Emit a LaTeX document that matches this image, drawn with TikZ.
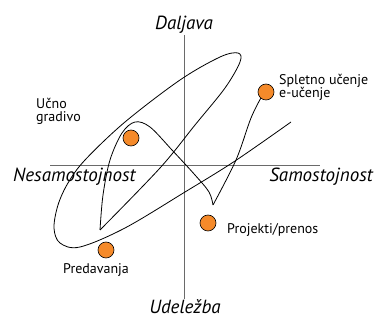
\documentclass[tikz,border=0pt]{standalone}
\usepackage{fontspec}
\setmainfont{PT Sans}
\usepackage{tikz}
\usepackage{xcolor}
\usetikzlibrary{
    calc,
    positioning
}
\definecolor{dotorange}{HTML}{F58A2A}
\definecolor{axisgray}{HTML}{6A6A6A}
\tikzset{
    dot/.style={circle, draw=black, line width=0.6pt, fill=dotorange, minimum size=16pt, inner sep=0pt},
    bigtext/.style={font=\fontsize{19}{21}\selectfont\itshape, inner sep=0pt},
    smalltext/.style={font=\fontsize{14}{13.5}\selectfont, inner sep=0pt, align=left}
}

\begin{document}
\begin{tikzpicture}[x=1pt, y=-1pt]
                                \useasboundingbox (0, 0) rectangle (378, 320);
                                % axes
                                \draw[axisgray, line width=0.9pt] (184, 35) -- (184, 299);
                                \draw[axisgray, line width=0.9pt] (50, 165) -- (320, 165);
                                \node[bigtext, anchor=base] (top) at (184, 30) {Daljava};
                                \node[bigtext, anchor=base] (bottom) at (185, 314) {Udeležba};
                                \node[bigtext, anchor=base west] (left) at (13, 182) {Nesamostojnost};
                                \node[bigtext, anchor=base east] (right) at (373, 182) {Samostojnost};
                                % path
                                \draw[line width=0.8pt] plot[smooth, tension=0.55] coordinates {
                                (291, 122) (235, 161) (185, 192) (125, 228) (80, 247) (60, 243) (54, 228)
                                (58, 205) (68, 183) (85, 160) (125, 122) (180, 80) (220, 57) (238, 53)
                                (240, 62) (225, 88) (195, 125) (160, 168) (100, 230)};
                                \draw[line width=0.8pt] plot[smooth, tension=0.55] coordinates {
                                (100, 230) (103, 195) (110, 160) (122, 133) (135, 122) (150, 127)
                                (172, 150) (195, 175) (209, 192) (213, 205)};
                                \draw[line width=0.8pt] plot[smooth, tension=0.55] coordinates {
                                (213, 205) (236, 160) (251, 118) (262, 96)};
                                % points
                                \node[dot] (gradivo) at (131, 138) {};
                                \node[dot] (spletno) at (266, 92) {};
                                \node[dot] (projekti) at (208, 223) {};
                                \node[dot] (predavanja) at (106, 250) {};
                                \node[smalltext, anchor=base west] (gradivotext) at (36, 122) {Učno\\gradivo};
                                \node[smalltext, anchor=base west] (spletnotext) at (279, 98) {Spletno učenje\\e-učenje};
                                \node[smalltext, anchor=base west] (projektitext) at (227, 234) {Projekti/prenos};
                                \node[smalltext, anchor=base west] (predavanjatext) at (63, 274) {Predavanja};
                            \end{tikzpicture}
\end{document}
